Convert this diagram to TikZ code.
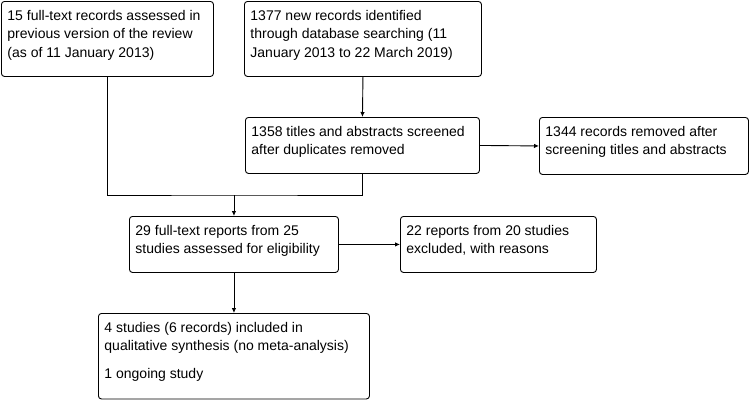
\documentclass[tikz,border=0pt]{standalone}
\usepackage{fontspec}
\setmainfont{Liberation Sans}
\usetikzlibrary{arrows.meta}
\newcommand\flowbox[6]{%
  \node[fbox, anchor=north west] (#1) at (#2,#3)
    {\parbox[t][\dimexpr#5pt-12pt\relax][t]{\dimexpr#4pt-12pt\relax}{\strut #6}};}
\begin{document}
\begin{tikzpicture}[x=1pt,y=-1pt,
  fbox/.style={draw=black, line width=0.9pt, rounded corners=3pt, inner sep=6pt,
    font=\fontsize{14pt}{18.5pt}\selectfont, align=left},
  arr/.style={draw=black, line width=0.9pt, -{Latex[length=5pt,width=4.5pt]}},
  conn/.style={draw=black, line width=0.9pt}]
\useasboundingbox[fill=white] (0,0) rectangle (751,400);
\flowbox{a}{1}{1}{212}{75}{15 full-text records assessed in\\previous version of the review\\(as of 11 January 2013)}
\flowbox{b}{244}{1}{237}{75}{1377 new records identified\\through database searching (11\\January 2013 to 22 March 2019)}
\flowbox{c}{245}{117}{234}{56}{1358 titles and abstracts screened\\after duplicates removed}
\flowbox{d}{539}{117}{209}{57}{1344 records removed after\\screening titles and abstracts}
\flowbox{e}{129}{216}{209}{56}{29 full-text reports from 25\\studies assessed for eligibility}
\flowbox{f}{400}{216}{196}{56}{22 reports from 20 studies\\excluded, with reasons}
\flowbox{g}{98}{313}{271}{85.5}{4 studies (6 records) included in\\qualitative synthesis (no meta-analysis)\\[9pt]1 ongoing study}
\coordinate (j) at (e.north |- 0,195);
\draw[arr] (b.south) -- (c.north);
\draw[arr] (c.east) -- (d.west);
\draw[conn] (a.south) |- (j) -| (c.south);
\draw[arr] (j) -- (e.north);
\draw[arr] (e.east) -- (f.west);
\draw[arr] (e.south) -- (g.north);
\end{tikzpicture}
\end{document}
